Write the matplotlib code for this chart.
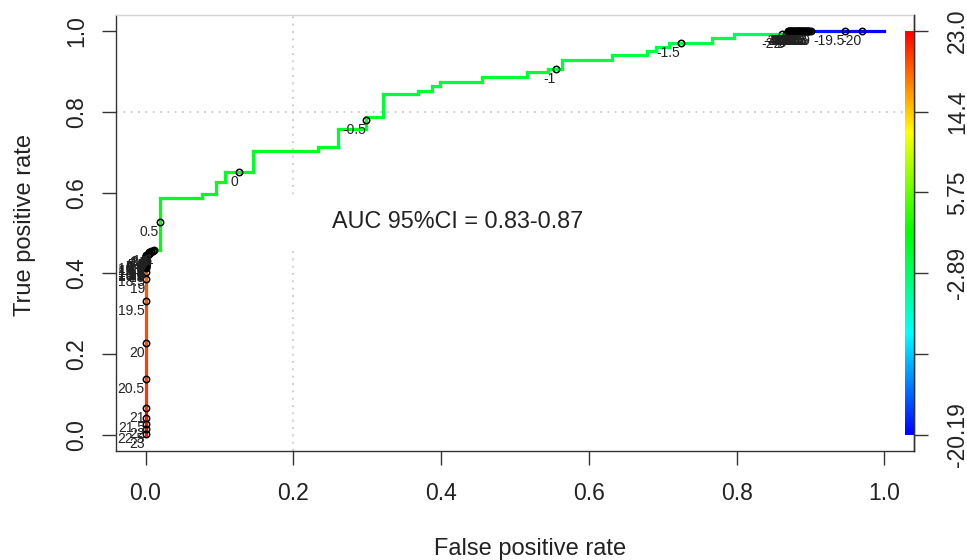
import numpy as np
import matplotlib
matplotlib.use("Agg")
import matplotlib.pyplot as plt
from matplotlib.collections import LineCollection
from matplotlib.colors import ListedColormap, Normalize, hsv_to_rgb
from matplotlib.lines import Line2D

plt.rcParams['font.family'] = ['Liberation Sans', 'DejaVu Sans']

# ---------------- data ----------------
# ROC curve vertices (false positive rate, true positive rate, cutoff)
roc_fpr = [0.000, 0.000, 0.000, 0.000, 0.000, 0.000, 0.000, 0.000, 0.005, 0.012,
           0.019, 0.019, 0.077, 0.077, 0.096, 0.096, 0.107, 0.107, 0.145, 0.145,
           0.233, 0.233, 0.261, 0.261, 0.299, 0.299, 0.321, 0.321, 0.369, 0.369,
           0.388, 0.388, 0.398, 0.398, 0.456, 0.456, 0.516, 0.516, 0.544, 0.544,
           0.563, 0.563, 0.631, 0.631, 0.679, 0.679, 0.691, 0.691, 0.709, 0.709,
           0.766, 0.766, 0.797, 0.797, 0.869, 0.869, 0.900, 0.947, 0.970, 1.000]
roc_tpr = [0.000, 0.067, 0.139, 0.228, 0.332, 0.386, 0.413, 0.443, 0.451, 0.458,
           0.458, 0.587, 0.587, 0.597, 0.597, 0.626, 0.626, 0.651, 0.651, 0.703,
           0.703, 0.713, 0.713, 0.757, 0.757, 0.787, 0.787, 0.844, 0.844, 0.851,
           0.851, 0.864, 0.864, 0.874, 0.874, 0.886, 0.886, 0.899, 0.899, 0.906,
           0.906, 0.928, 0.928, 0.941, 0.941, 0.950, 0.950, 0.960, 0.960, 0.970,
           0.970, 0.983, 0.983, 0.993, 0.993, 1.000, 1.000, 1.000, 1.000, 1.000]
roc_cut = [23.0, 21.0, 20.5, 20.0, 19.5, 19.0, 18.0, 7.0, 3.5, 1.0,
           0.8, 0.45, 0.35, 0.3, 0.2, 0.15, 0.1, 0.05, -0.05, -0.1,
           -0.2, -0.25, -0.3, -0.35, -0.45, -0.55, -0.6, -0.65, -0.7, -0.75,
           -0.8, -0.82, -0.85, -0.88, -0.92, -0.94, -0.96, -0.97, -0.99, -1.0,
           -1.05, -1.1, -1.2, -1.25, -1.35, -1.4, -1.42, -1.45, -1.48, -1.5,
           -1.7, -1.75, -1.8, -1.85, -2.5, -3.5, -19.0, -19.5, -20.0, -20.19]

# printed cutoffs and their positions on the curve
print_cut = [23, 22.5, 22, 21.5, 21, 20.5, 20, 19.5, 19, 18.5, 18, 17.5, 17, 16.5, 16,
             15.5, 15, 14.5, 14, 13.5, 13, 12.5, 12, 11.5, 11, 10.5, 10, 9.5, 9, 8.5,
             8, 7.5, 7, 6.5, 6, 5.5, 5, 4.5, 4, 3.5, 3, 2.5, 2, 1.5, 1, 0.5, 0,
             -0.5, -1, -1.5, -2, -2.5, -3, -3.5, -4, -4.5, -5, -5.5, -6, -6.5, -7,
             -7.5, -8, -8.5, -9, -9.5, -10, -10.5, -11, -11.5, -12, -12.5, -13,
             -13.5, -14, -14.5, -15, -15.5, -16, -16.5, -17, -17.5, -18, -18.5,
             -19, -19.5, -20]
print_fpr = [0.000, 0.000, 0.000, 0.000, 0.000, 0.000, 0.000, 0.000, 0.000, 0.000,
             0.000, 0.000, 0.000, 0.000, 0.000, 0.000, 0.000, 0.000, 0.000, 0.000,
             0.000, 0.000, 0.000, 0.000, 0.000, 0.000, 0.000, 0.000, 0.000, 0.000,
             0.000, 0.000, 0.000, 0.001, 0.001, 0.003, 0.003, 0.004, 0.004, 0.005,
             0.005, 0.007, 0.008, 0.010, 0.012, 0.019, 0.127, 0.299, 0.556, 0.725,
             0.862, 0.867, 0.869, 0.870, 0.871, 0.871, 0.872, 0.873, 0.874, 0.875,
             0.876, 0.877, 0.878, 0.879, 0.880, 0.881, 0.882, 0.883, 0.884, 0.884,
             0.885, 0.886, 0.887, 0.888, 0.889, 0.890, 0.891, 0.892, 0.893, 0.894,
             0.895, 0.896, 0.897, 0.898, 0.900, 0.947, 0.970]
print_tpr = [0.002, 0.015, 0.027, 0.042, 0.067, 0.139, 0.228, 0.332, 0.386, 0.403,
             0.413, 0.416, 0.418, 0.418, 0.421, 0.421, 0.423, 0.424, 0.426, 0.426,
             0.428, 0.429, 0.431, 0.431, 0.433, 0.434, 0.436, 0.436, 0.438, 0.439,
             0.441, 0.441, 0.443, 0.444, 0.446, 0.446, 0.448, 0.449, 0.451, 0.451,
             0.453, 0.453, 0.455, 0.456, 0.458, 0.527, 0.651, 0.780, 0.906, 0.970,
             0.993, 0.993, 0.996, 1.000, 1.000, 1.000, 1.000, 1.000, 1.000, 1.000,
             1.000, 1.000, 1.000, 1.000, 1.000, 1.000, 1.000, 1.000, 1.000, 1.000,
             1.000, 1.000, 1.000, 1.000, 1.000, 1.000, 1.000, 1.000, 1.000, 1.000,
             1.000, 1.000, 1.000, 1.000, 1.000, 1.000, 1.000]

cut_min, cut_max = -20.19, 23.0
cb_values = [-20.19, -11.55, -2.89, 5.75, 14.4, 23.0]
cb_labels = ['-20.19', '', '-2.89', '5.75', '14.4', '23.0']

axis_ticks = [0.0, 0.2, 0.4, 0.6, 0.8, 1.0]
axis_tick_labels = ['0.0', '0.2', '0.4', '0.6', '0.8', '1.0']
grid_x = [0.2]
grid_y = [0.8]

auc_text = 'AUC 95%CI = 0.83-0.87'
xlabel = 'False positive rate'
ylabel = 'True positive rate'

# ---------------- style ----------------
hues = np.linspace(2 / 3, 0, 256)
cmap = ListedColormap(hsv_to_rgb(np.column_stack([hues, np.ones(256), np.ones(256)])))
norm = Normalize(cut_min, cut_max)

fig = plt.figure(figsize=(9.67, 5.60), dpi=100)
ax = fig.add_axes([116 / 967, 1 - 451 / 560, 798 / 967, 436 / 560])
ax.set_xlim(-0.04, 1.04)
ax.set_ylim(-0.04, 1.04)

axcol = '#333333'
for s in ['left', 'bottom', 'right']:
    ax.spines[s].set_color(axcol)
    ax.spines[s].set_linewidth(1.0)
ax.spines['top'].set_color('#d4d4d4')
ax.spines['top'].set_linewidth(1.0)

# grid lines (dotted)
for gx in grid_x:
    ax.axvline(gx, color='#c8c8c8', lw=1.2, ls=(0, (1.2, 3.2)), zorder=1)
for gy in grid_y:
    ax.axhline(gy, color='#c8c8c8', lw=1.2, ls=(0, (1.2, 3.2)), zorder=1)

# colored ROC curve
pts = np.column_stack([roc_fpr, roc_tpr])
segs = np.stack([pts[:-1], pts[1:]], axis=1)
cuts = np.asarray(roc_cut)
mid = (cuts[:-1] + cuts[1:]) / 2
lc = LineCollection(segs, colors=cmap(norm(mid)), linewidths=2.3,
                    capstyle='projecting', zorder=3)
ax.add_collection(lc)

# printed cutoffs
ax.plot(print_fpr, print_tpr, 'o', mfc='none', mec='black', ms=4.6, mew=1.1,
        zorder=4, clip_on=False)
for c, x, y in zip(print_cut, print_fpr, print_tpr):
    ax.annotate(f'{c:g}', (x, y), xytext=(-0.5, -2), textcoords='offset points',
                ha='right', va='top', fontsize=10, color='#222222', zorder=5,
                annotation_clip=False)

# AUC legend (white box, no frame)
h = Line2D([], [], linestyle='none', marker='none')
leg = ax.legend([h], [auc_text], loc='center', bbox_to_anchor=(0.397, 0.527),
                frameon=True, fancybox=False, framealpha=1.0, edgecolor='none',
                facecolor='white', fontsize=16.8, handlelength=1.6,
                handletextpad=0.5, borderpad=0.6, borderaxespad=0)
leg.set_zorder(2)
for t in leg.get_texts():
    t.set_color('#222222')

# axes ticks
ax.set_xticks(axis_ticks)
ax.set_xticklabels(axis_tick_labels)
ax.set_yticks(axis_ticks)
ax.set_yticklabels(axis_tick_labels)
ax.tick_params(axis='x', direction='out', length=10, width=1.0, color=axcol,
               labelsize=16.5, pad=12, labelcolor='#222222')
ax.tick_params(axis='y', direction='out', length=10, width=1.0, color=axcol,
               labelsize=16.5, pad=10, labelrotation=90, labelcolor='#222222')
for lab in ax.get_yticklabels():
    lab.set_va('center')

ax.set_xlabel(xlabel, fontsize=17, color='#222222')
ax.set_ylabel(ylabel, fontsize=17, color='#222222')
ax.xaxis.set_label_coords(0.519, -0.20)
ax.yaxis.set_label_coords(-0.10, 0.518)

# colorbar inside right edge
cax = ax.inset_axes([1.028, 0.0, 0.0115, 1.0], transform=ax.transData)
cax.imshow(np.linspace(0, 1, 256)[:, None], aspect='auto', cmap=cmap,
           origin='lower', extent=[0, 1, 0, 1])
cax.set_axis_off()

ax2 = ax.twinx()
ax2.set_ylim(ax.get_ylim())
for s in ['left', 'top', 'bottom']:
    ax2.spines[s].set_visible(False)
ax2.spines['right'].set_color(axcol)
ax2.spines['right'].set_linewidth(1.0)
ax2.set_yticks(norm(cb_values))
ax2.set_yticklabels(cb_labels)
ax2.tick_params(axis='y', direction='out', length=10, width=1.0, color=axcol,
                labelsize=16.5, pad=13, labelrotation=90, labelcolor='#222222')
for lab in ax2.get_yticklabels():
    lab.set_va('center')

fig.savefig('out.png', dpi=100)
